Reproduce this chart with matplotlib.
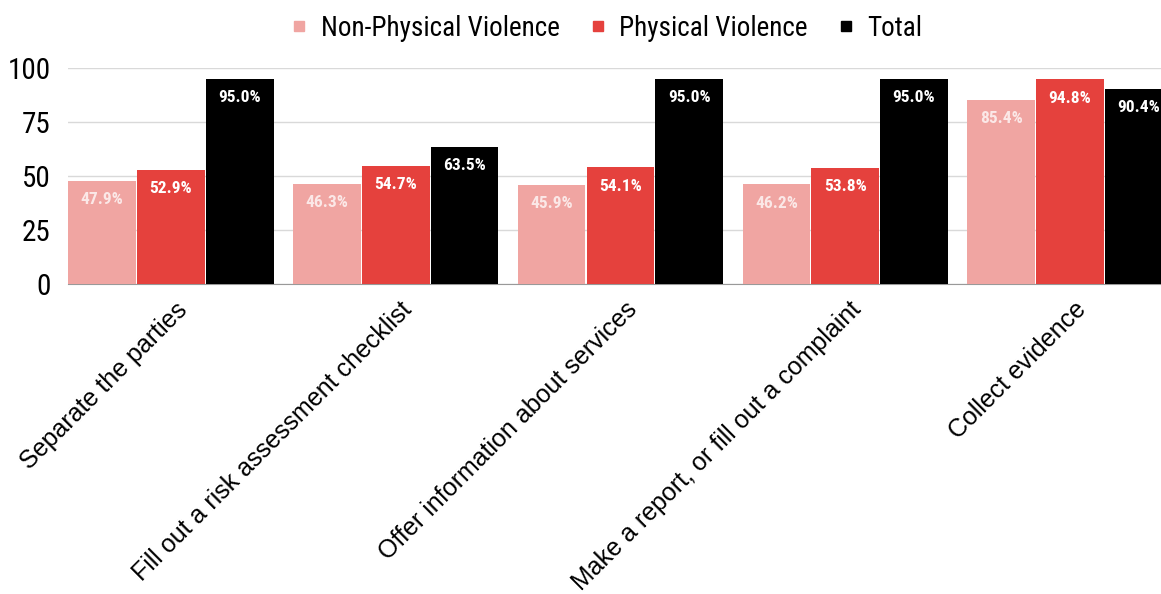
import matplotlib
matplotlib.use("Agg")
import matplotlib.pyplot as plt
import matplotlib.transforms as mtransforms
from matplotlib import font_manager as fm
from matplotlib.lines import Line2D
import numpy as np

categories = ["Separate the parties", "Fill out a risk assessment checklist",
              "Offer information about services", "Make a report, or fill out a complaint",
              "Collect evidence"]
series_names = ["Non-Physical Violence", "Physical Violence", "Total"]
non_physical = [47.9, 46.3, 45.9, 46.2, 85.4]
physical = [52.9, 54.7, 54.1, 53.8, 94.8]
total = [95.0, 63.5, 95.0, 95.0, 90.4]
yticks = [0, 25, 50, 75, 100]

colors = ["#F0A5A2", "#E5413D", "#000000"]
label_alpha = [0.75, 1.0, 1.0]

# pick a condensed font if one is installed
names = {f.name for f in fm.fontManager.ttflist}
narrow_family = None
for cand in ["Roboto Condensed", "Liberation Sans Narrow", "DejaVu Sans"]:
    if cand in names:
        narrow_family = cand
        break

def fp(size, bold=False):
    kw = dict(size=size, weight="bold" if bold else "normal")
    if narrow_family == "DejaVu Sans":
        kw["stretch"] = "condensed"
    return fm.FontProperties(family=[narrow_family or "DejaVu Sans", "DejaVu Sans"], **kw)

W, H = 1161, 594
fig = plt.figure(figsize=(W / 100, H / 100), dpi=100)
ax = fig.add_axes([68 / W, (H - 284) / H, (W - 68) / W, 216 / H])

x = np.arange(len(categories))
bw = 0.301
offsets = [-0.306, 0.0, 0.306]
for vals, off, c, la in zip([non_physical, physical, total], offsets, colors, label_alpha):
    bars = ax.bar(x + off, vals, width=bw, color=c, zorder=3)
    for b, v in zip(bars, vals):
        ax.annotate(f"{v:.1f}%", (b.get_x() + b.get_width() / 2, v),
                    xytext=(0, -19), textcoords="offset pixels",
                    ha="center", va="center", color="white", alpha=la,
                    fontproperties=fp(12.5, bold=True), zorder=4)

ax.set_xlim((68 - 171) / 224.7, (W - 171) / 224.7)
ax.set_ylim(0, 100)
ax.set_yticks(yticks)
ax.set_yticklabels([str(t) for t in yticks])
for lbl in ax.get_yticklabels():
    lbl.set_fontproperties(fp(21))
ax.tick_params(axis="y", length=0, pad=12.5)
ax.yaxis.grid(True, color="#D9D9D9", linewidth=1, zorder=0)
ax.set_axisbelow(True)
for s in ["top", "right", "left"]:
    ax.spines[s].set_visible(False)
ax.spines["bottom"].set_color("#999999")

ax.set_xticks(x)
ax.set_xticklabels(categories, rotation=45, ha="right", rotation_mode="anchor",
                   family=["Liberation Sans", "DejaVu Sans"], fontsize=18)
ax.tick_params(axis="x", length=0, pad=4)
offset = mtransforms.ScaledTranslation(4 / 100, -8 / 100, fig.dpi_scale_trans)
for lbl in ax.get_xticklabels():
    lbl.set_transform(lbl.get_transform() + offset)

handles = [Line2D([0], [0], marker="s", linestyle="", markersize=7,
                  markerfacecolor=c, markeredgecolor=c) for c in colors]
fig.legend(handles, series_names, loc="center", bbox_to_anchor=(604 / W, 1 - 28 / H),
           ncol=3, frameon=False, prop=fp(19.5),
           handletextpad=0.3, columnspacing=0.9, handlelength=1.0)

fig.savefig("out.png", dpi=100, facecolor="white")
